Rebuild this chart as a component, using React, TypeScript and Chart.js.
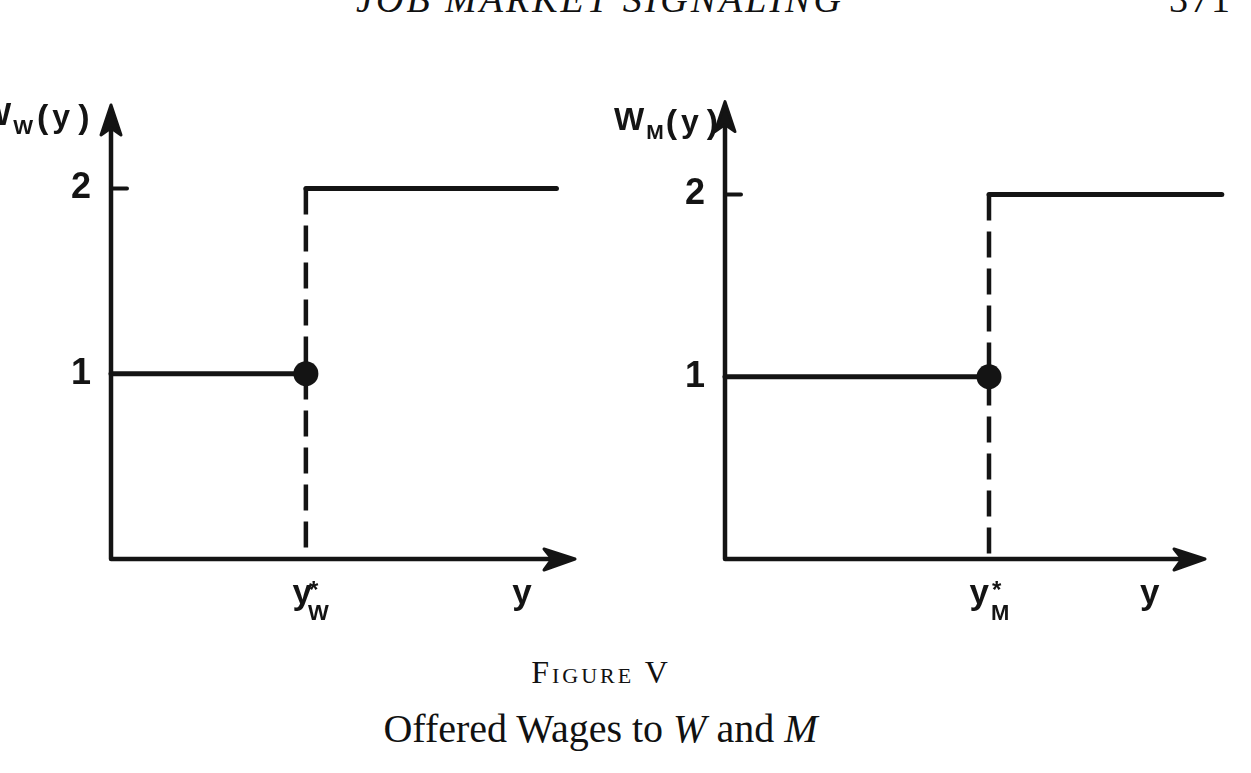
import { useEffect, useRef } from "react";
import { Chart, registerables, Plugin } from "chart.js";

Chart.register(...registerables);

// Offered wage schedules, one panel per group
const groups = ["W", "M"];
const thresholds = [4.2, 5.5]; // y*_W, y*_M on the signal axis
const upperEnds = [9.6, 10.35]; // where the wage-2 line stops
const lowWage = [1, 1];
const highWage = [2, 2];
const wageTicks = [1, 2];
const signalNameAt = [8.86, 8.85]; // where the "y" axis name sits
const xMax = [10, 10];
const yMax = [2.45, 2.51];

const INK = "#141414";
const SANS = "'Liberation Sans', Arial, sans-serif";
const SERIF = "'Liberation Serif', 'Times New Roman', serif";

// canvas placement per panel (page px)
const PANEL_LAYOUT = [
  { left: 0, width: 610, axisW: 111, padTop: 45, padRight: 35, titleDx: -130, titleDy: 20, gapSub: 2, gapParen: 4, yOff: 6 },
  { left: 605, width: 646, axisW: 120, padTop: 24, padRight: 46, titleDx: -111, titleDy: 28, gapSub: 2, gapParen: 2, yOff: 0 },
];
const CANVAS_TOP = 60;
const CANVAS_H = 580;

function sketchPlugin(i: number): Plugin<"line"> {
  const L = PANEL_LAYOUT[i];
  return {
    id: "sketch" + i,
    afterDraw(chart) {
      const { ctx, chartArea: a, scales } = chart;
      const xs = scales.x;
      const ys = scales.y;
      ctx.save();
      ctx.strokeStyle = INK;
      ctx.fillStyle = INK;
      ctx.lineWidth = 4.5;
      ctx.lineCap = "round";
      ctx.lineJoin = "round";

      // axes
      ctx.beginPath();
      ctx.moveTo(a.left, a.top + 20);
      ctx.lineTo(a.left, a.bottom);
      ctx.lineTo(a.right - 20, a.bottom);
      ctx.stroke();

      // arrow heads
      ctx.lineWidth = 3;
      ctx.beginPath();
      ctx.moveTo(a.left, a.top);
      ctx.lineTo(a.left + 10, a.top + 30);
      ctx.lineTo(a.left, a.top + 23);
      ctx.lineTo(a.left - 10, a.top + 30);
      ctx.closePath();
      ctx.fill();
      ctx.stroke();
      ctx.beginPath();
      ctx.moveTo(a.right, a.bottom);
      ctx.lineTo(a.right - 31, a.bottom - 10);
      ctx.lineTo(a.right - 23, a.bottom);
      ctx.lineTo(a.right - 31, a.bottom + 11);
      ctx.closePath();
      ctx.fill();
      ctx.stroke();

      // tick mark at the upper wage
      ctx.lineWidth = 4;
      const ty = ys.getPixelForValue(highWage[i]);
      ctx.beginPath();
      ctx.moveTo(a.left, ty);
      ctx.lineTo(a.left + 16, ty);
      ctx.stroke();

      // axis title W_g(y)
      ctx.textAlign = "left";
      ctx.textBaseline = "alphabetic";
      let x = a.left + L.titleDx;
      const base = a.top + L.titleDy;
      ctx.font = `bold 32px ${SANS}`;
      ctx.fillText("W", x, base);
      x += ctx.measureText("W").width + L.gapSub;
      ctx.font = `bold 21px ${SANS}`;
      ctx.fillText(groups[i], x, base + 9);
      x += ctx.measureText(groups[i]).width + L.gapParen;
      ctx.font = `bold 34px ${SANS}`;
      ctx.fillText("(", x, base + 3);
      x += ctx.measureText("(").width + 4;
      ctx.font = `bold 32px ${SANS}`;
      ctx.fillText("y", x, base + 2);
      x += ctx.measureText("y").width + 8;
      ctx.font = `bold 34px ${SANS}`;
      ctx.fillText(")", x, base + 3);

      // x labels: y*_g and the axis name y
      const by = a.bottom + 45;
      const px = xs.getPixelForValue(thresholds[i]);
      ctx.font = `bold 35px ${SANS}`;
      ctx.textAlign = "right";
      ctx.fillText("y", px + L.yOff, by);
      ctx.textAlign = "left";
      ctx.font = `bold 24px ${SANS}`;
      ctx.fillText("*", px + 3, by - 6);
      ctx.font = `bold 22px ${SANS}`;
      ctx.fillText(groups[i], px + 2, by + 16);
      ctx.font = `bold 35px ${SANS}`;
      ctx.textAlign = "center";
      ctx.fillText("y", xs.getPixelForValue(signalNameAt[i]), by);

      ctx.restore();
    },
  };
}

function Panel({ i }: { i: number }) {
  const canvasRef = useRef<HTMLCanvasElement>(null);
  const L = PANEL_LAYOUT[i];

  useEffect(() => {
    if (!canvasRef.current) return;
    const t = thresholds[i];
    const line = { type: "line" as const, borderColor: INK, borderWidth: 5, pointRadius: 0, clip: false as const, borderCapStyle: "round" as const };
    const chart = new Chart(canvasRef.current, {
      type: "line",
      data: {
        datasets: [
          {
            type: "scatter",
            data: [{ x: t, y: lowWage[i] }],
            pointRadius: 12.5,
            pointBackgroundColor: INK,
            pointBorderWidth: 0,
            clip: false,
          } as any,
          { ...line, data: [{ x: 0, y: lowWage[i] }, { x: t, y: lowWage[i] }] },
          { ...line, data: [{ x: t, y: highWage[i] }, { x: upperEnds[i], y: highWage[i] }] },
          {
            ...line,
            borderCapStyle: "butt",
            borderWidth: 4.5,
            borderDash: [26, 11],
            data: [{ x: t, y: highWage[i] }, { x: t, y: 0 }],
          },
        ],
      },
      options: {
        animation: false,
        responsive: true,
        maintainAspectRatio: false,
        events: [],
        layout: { padding: { left: 0, top: L.padTop, right: L.padRight, bottom: 81 } },
        plugins: { legend: { display: false }, tooltip: { enabled: false } },
        scales: {
          x: { type: "linear", min: 0, max: xMax[i], display: false },
          y: {
            type: "linear",
            min: 0,
            max: yMax[i],
            afterBuildTicks: (s) => {
              s.ticks = wageTicks.map((v) => ({ value: v }));
            },
            afterFit: (s) => {
              s.width = L.axisW;
            },
            grid: { display: false, drawTicks: false },
            border: { display: false },
            ticks: {
              color: INK,
              padding: 20,
              font: { family: "Liberation Sans", size: 36, weight: "bold" },
              callback: (v) => String(v),
            },
          },
        },
      },
      plugins: [sketchPlugin(i)],
    });
    return () => chart.destroy();
  }, [i]);

  return (
    <div style={{ position: "absolute", left: L.left, top: CANVAS_TOP, width: L.width, height: CANVAS_H }}>
      <canvas ref={canvasRef} />
    </div>
  );
}

export default function App() {
  return (
    <div
      style={{
        position: "fixed",
        left: 0,
        top: 0,
        width: 1251,
        height: 773,
        background: "#fff",
        overflow: "hidden",
        color: "#111",
      }}
    >
      {/* running head, cut off at the top of the scan */}
      <div
        style={{
          position: "absolute",
          left: 0,
          top: -20,
          width: 1200,
          textAlign: "center",
          font: `italic 38px ${SERIF}`,
          lineHeight: 1,
          letterSpacing: 3,
          whiteSpace: "nowrap",
        }}
      >
        JOB MARKET SIGNALING
      </div>
      <div style={{ position: "absolute", left: 1169, top: -20, font: `38px ${SERIF}`, lineHeight: 1, letterSpacing: 2 }}>
        371
      </div>

      <Panel i={0} />
      <Panel i={1} />

      <div
        style={{
          position: "absolute",
          left: 0,
          top: 656,
          width: 1202,
          textAlign: "center",
          font: `32px ${SERIF}`,
          fontVariant: "small-caps",
          letterSpacing: 3,
          lineHeight: 1,
        }}
      >
        Figure V
      </div>
      <div
        style={{
          position: "absolute",
          left: 0,
          top: 709,
          width: 1201,
          textAlign: "center",
          font: `40px ${SERIF}`,
          lineHeight: 1,
          whiteSpace: "nowrap",
        }}
      >
        Offered Wages to <i>W</i> and <i>M</i>
      </div>
    </div>
  );
}
